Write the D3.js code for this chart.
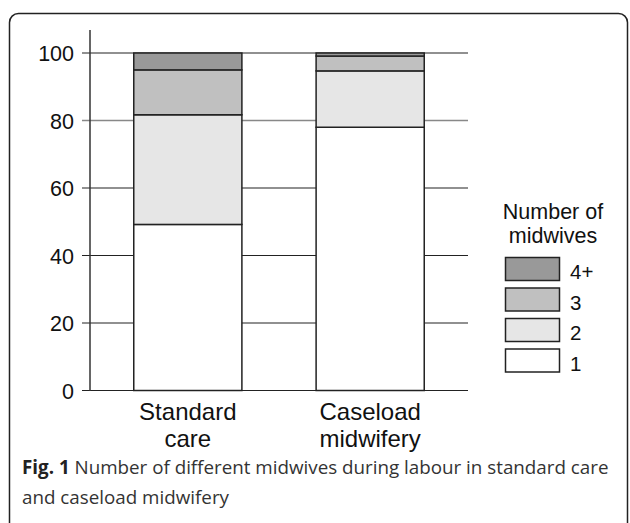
<!DOCTYPE html>
<html>
<head>
<meta charset="utf-8">
<script src="https://d3js.org/d3.v7.min.js"></script>
<style>
  body { margin: 0; background: #fff; }
  text { font-family: "Liberation Sans", Arial, sans-serif; fill: #111; }
  .caption { font-family: "Open Sans", "Noto Sans", sans-serif; fill: #333; }
</style>
</head>
<body>
<script>
// data (percent of women)
var groups = ["Standard care", "Caseload midwifery"];
var groupLines = [["Standard", "care"], ["Caseload", "midwifery"]];
var keys = ["1", "2", "3", "4+"];
var values = {
  "Standard care":      [49.2, 32.5, 13.3, 5.0],
  "Caseload midwifery": [78.0, 16.7, 4.4, 0.9]
};
var colors = ["#ffffff", "#e6e6e6", "#c0c0c0", "#999999"];
var yTicks = [0, 20, 40, 60, 80, 100];

var W = 630, H = 523;
var svg = d3.select("body").append("svg")
    .attr("width", W).attr("height", H);

// rounded frame
svg.append("rect")
    .attr("x", 9.5).attr("y", 13.5)
    .attr("width", 618).attr("height", 540)
    .attr("rx", 9)
    .attr("fill", "none").attr("stroke", "#222").attr("stroke-width", 1.5);

var x = d3.scaleBand().domain(groups).range([90, 468]).paddingInner(0.407).paddingOuter(0.24);
var y = d3.scaleLinear().domain([0, 100]).range([390.5, 53]);

// gridlines
svg.append("g").selectAll("line")
  .data(yTicks)
  .join("line")
    .attr("x1", 82).attr("x2", 468)
    .attr("y1", d => y(d)).attr("y2", d => y(d))
    .attr("stroke", d => d === 80 ? "#888" : "#222")
    .attr("stroke-width", d => d === 80 ? 1.6 : 1.2);

// y axis line
svg.append("line")
    .attr("x1", 90).attr("x2", 90).attr("y1", 30).attr("y2", 391)
    .attr("stroke", "#333").attr("stroke-width", 1.5);

// tick labels
svg.append("g").selectAll("text")
  .data(yTicks)
  .join("text")
    .attr("x", 74).attr("y", d => y(d) + 8)
    .attr("text-anchor", "end")
    .attr("font-size", 21.5)
    .text(d => d);

// stacked bars
var rows = groups.map(function(g) {
  var r = { group: g };
  keys.forEach((k, i) => r[k] = values[g][i]);
  return r;
});
var stacked = d3.stack().keys(keys)(rows);

svg.append("g").selectAll("g")
  .data(stacked)
  .join("g")
    .attr("fill", (d, i) => colors[i])
  .selectAll("rect")
  .data(d => d)
  .join("rect")
    .attr("x", d => x(d.data.group))
    .attr("width", x.bandwidth())
    .attr("y", d => y(d[1]))
    .attr("height", d => y(d[0]) - y(d[1]))
    .attr("stroke", "#222").attr("stroke-width", 1.5);

// category labels
groups.forEach(function(g, i) {
  var cx = x(g) + x.bandwidth() / 2;
  var t = svg.append("text")
      .attr("x", cx)
      .attr("y", 420)
      .attr("text-anchor", "middle")
      .attr("font-size", 24);
  groupLines[i].forEach((s, j) => t.append("tspan")
      .attr("x", cx)
      .attr("dy", j === 0 ? 0 : 27)
      .text(s));
});

// legend
var lg = svg.append("g");
lg.append("text").attr("x", 553).attr("y", 219).attr("text-anchor", "middle")
    .attr("font-size", 21.5).text("Number of");
lg.append("text").attr("x", 553).attr("y", 243).attr("text-anchor", "middle")
    .attr("font-size", 21.5).text("midwives");
var legendKeys = keys.slice().reverse();
var ly = d3.scaleBand().domain(legendKeys).range([254, 376]);
legendKeys.forEach(function(k) {
  var i = keys.indexOf(k);
  lg.append("rect")
      .attr("x", 505.5).attr("y", ly(k) + 3.5)
      .attr("width", 54).attr("height", 23)
      .attr("fill", colors[i])
      .attr("stroke", "#222").attr("stroke-width", 1.5);
  lg.append("text")
      .attr("x", 570).attr("y", ly(k) + 25)
      .attr("font-size", 20.5)
      .text(k);
});

// caption
var cap = svg.append("text").attr("class", "caption")
    .attr("x", 22).attr("y", 474).attr("font-size", 18.8);
cap.append("tspan").attr("font-weight", "bold").attr("fill", "#222").text("Fig. 1");
cap.append("tspan").text(" Number of different midwives during labour in standard care");
svg.append("text").attr("class", "caption")
    .attr("x", 22).attr("y", 504).attr("font-size", 18.8)
    .text("and caseload midwifery");
</script>
</body>
</html>
